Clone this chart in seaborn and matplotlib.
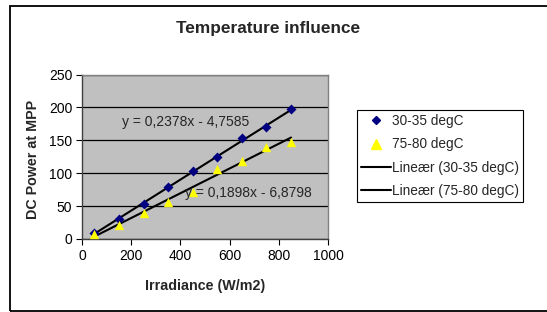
import matplotlib
matplotlib.use("Agg")
import matplotlib.pyplot as plt
import seaborn as sns
import pandas as pd
from matplotlib.patches import Rectangle
from matplotlib.lines import Line2D

# data
irradiance = [50, 150, 250, 350, 450, 550, 650, 750, 850]
power_30_35 = [9, 31, 53, 79, 103, 124, 153, 170, 197]
power_75_80 = [7, 21, 40, 57, 72, 107, 119, 140, 148]
series_names = ["30-35 degC", "75-80 degC"]
eq_texts = ["y = 0,2378x - 4,7585", "y = 0,1898x - 6,8798"]

df = pd.DataFrame({
    "irr": irradiance * 2,
    "power": power_30_35 + power_75_80,
    "serie": [series_names[0]] * len(irradiance) + [series_names[1]] * len(irradiance),
})

sns.set_style("white")
plt.rcParams["font.family"] = ["Liberation Sans", "DejaVu Sans"]

fig = plt.figure(figsize=(5.47, 3.12), dpi=100)
ax = fig.add_axes([0.150, 0.234, 0.4496, 0.527])
ax.set_facecolor("#c0c0c0")

# outer chart border
fig.patches.append(Rectangle((10 / 547, 1 / 312), 1.2, 305 / 312, transform=fig.transFigure,
                             fill=False, edgecolor="black", linewidth=1.3, zorder=0))

colors = {"30-35 degC": "#000080", "75-80 degC": "#ffff00"}
markers = {"30-35 degC": "D", "75-80 degC": "^"}
sizes = {"30-35 degC": 26, "75-80 degC": 45}

for name in series_names:
    sub = df[df["serie"] == name]
    sns.regplot(data=sub, x="irr", y="power", scatter=False, ci=None, truncate=True,
                line_kws={"color": "black", "linewidth": 1.5, "zorder": 2}, ax=ax)
    sns.scatterplot(data=sub, x="irr", y="power", marker=markers[name], color=colors[name],
                    s=sizes[name], edgecolor=colors[name], linewidth=0, zorder=3, ax=ax)

ax.text(423, 178, eq_texts[0], ha="center", va="center", fontsize=10, zorder=4)
ax.text(675, 70, eq_texts[1], ha="center", va="center", fontsize=10, zorder=4)

ax.set_xlim(0, 1000)
ax.set_ylim(0, 250)
ax.set_xticks(range(0, 1001, 200))
ax.set_yticks(range(0, 251, 50))
ax.yaxis.grid(True, color="black", linewidth=0.9)
ax.set_axisbelow(True)
ax.tick_params(axis="both", direction="out", length=4, width=0.8, colors="black",
               labelsize=10, pad=3, left=True, bottom=True)
for side in ["left", "bottom"]:
    ax.spines[side].set_color("#404040")
    ax.spines[side].set_linewidth(1.0)
for side in ["top", "right"]:
    ax.spines[side].set_color("#808080")
    ax.spines[side].set_linewidth(1.0)

ax.set_xlabel("Irradiance (W/m2)", fontsize=10.3, fontweight="bold")
ax.set_ylabel("DC Power at MPP", fontsize=10.3, fontweight="bold")
ax.xaxis.set_label_coords(205 / 547, 1 - 286 / 312, transform=fig.transFigure)
ax.yaxis.set_label_coords(33 / 547, 1 - 159 / 312, transform=fig.transFigure)
ax.xaxis.label.set_va("center")
ax.yaxis.label.set_va("center")
fig.text(268.5 / 547, 1 - 28 / 312, "Temperature influence", ha="center", va="center",
         fontsize=12.4, fontweight="bold")

handles = [
    Line2D([], [], linestyle="none", marker="D", color=colors[series_names[0]], markersize=4.5),
    Line2D([], [], linestyle="none", marker="^", color=colors[series_names[1]], markersize=7),
    Line2D([], [], color="black", linewidth=1.5),
    Line2D([], [], color="black", linewidth=1.5),
]
labels = series_names + ["Lineær (" + n + ")" for n in series_names]
leg = fig.legend(handles, labels, loc="upper left", bbox_to_anchor=(357 / 547, 1 - 110 / 312),
                 fontsize=9.8, frameon=True, fancybox=False, edgecolor="black", framealpha=1,
                 borderpad=0.3, labelspacing=0.68, handlelength=2.2, handletextpad=0.1,
                 borderaxespad=0)
leg.get_frame().set_linewidth(0.8)

fig.savefig("out.png", dpi=100)
